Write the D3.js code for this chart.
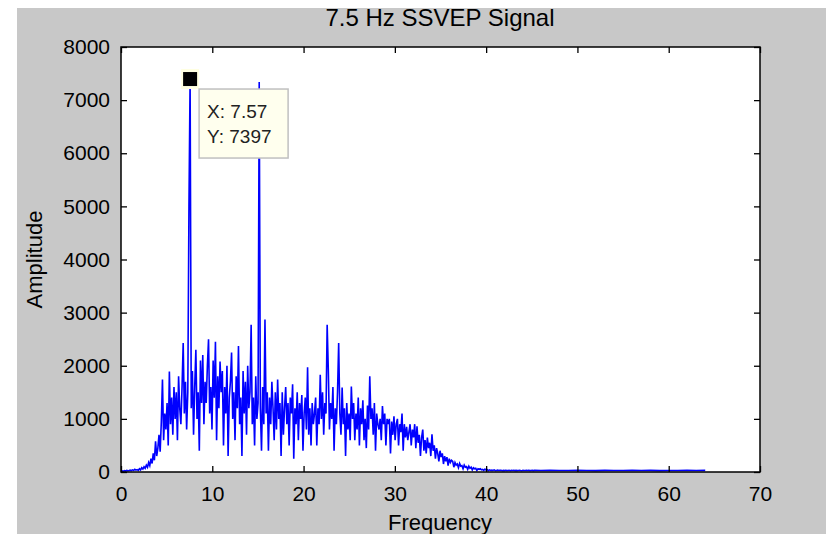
<!DOCTYPE html>
<html>
<head>
<meta charset="utf-8">
<script src="https://cdn.jsdelivr.net/npm/d3@7"></script>
<style>
  html, body { margin: 0; padding: 0; background: #ffffff; }
  svg { display: block; font-family: "Liberation Sans", Arial, sans-serif; }
</style>
</head>
<body>
<svg id="chart" width="826" height="534"></svg>
<script>
// ---- data ----
const chartTitle = "7.5 Hz SSVEP Signal";
const xLabel = "Frequency";
const yLabel = "Amplitude";
const xTicks = [0, 10, 20, 30, 40, 50, 60, 70];
const yTicks = [0, 1000, 2000, 3000, 4000, 5000, 6000, 7000, 8000];
const freqStep = 0.126167; // Hz between spectrum samples (0 .. ~45 Hz)
const amplitude = [
  10, 20, 15, 25, 18, 30, 22, 28,
  35, 25, 40, 30, 50, 35, 45, 30,
  60, 40, 80, 55, 100, 70, 130, 90,
  180, 120, 250, 160, 350, 220, 580, 300,
  450, 700, 380, 940, 1740, 600, 1100, 800,
  1300, 500, 1890, 900, 1400, 700, 1600, 1000,
  1500, 600, 1800, 1200, 900, 1600, 2430, 1100,
  1700, 800, 1500, 5000, 7397, 1200, 1900, 700,
  1600, 2300, 1000, 1500, 400, 2100, 1300, 2200,
  900, 1700, 1300, 2000, 2500, 1100, 1600, 800,
  2100, 1400, 2450, 600, 1800, 1200, 2080, 1500,
  1900, 500, 1600, 1100, 2000, 300, 1400, 1700,
  2250, 1000, 1500, 600, 1800, 1200, 2370, 900,
  1400, 300, 1900, 1100, 1700, 700, 2000, 1200,
  1500, 2770, 900, 1400, 500, 1800, 1000, 1300,
  7340, 1200, 400, 1600, 900, 2870, 1100, 1500,
  400, 1400, 900, 1700, 1200, 600, 1500, 800,
  1740, 1000, 1300, 300, 1500, 700, 1200, 1600,
  900, 1300, 500, 1400, 1100, 1650, 250, 1200,
  900, 1500, 600, 1300, 1000, 1450, 400, 1100,
  1400, 800, 1970, 700, 1200, 500, 1300, 900,
  1100, 1400, 500, 1200, 900, 1830, 1000, 1500,
  700, 1300, 1100, 2770, 1930, 800, 1300, 1000,
  1600, 400, 1200, 900, 1500, 2430, 1100, 700,
  1590, 900, 1200, 300, 1300, 800, 1100, 600,
  1610, 1000, 1300, 600, 1100, 800, 1400, 500,
  1200, 900, 1350, 600, 1000, 450, 1250, 800,
  1800, 1000, 1200, 700, 1300, 400, 1100, 900,
  800, 1000, 600, 1240, 900, 1100, 500, 1000,
  900, 1000, 350, 950, 700, 1050, 600, 900,
  1000, 500, 900, 750, 1100, 400, 900, 650,
  850, 600, 750, 900, 500, 800, 650, 900,
  450, 860, 550, 700, 300, 650, 800, 400,
  600, 350, 650, 450, 550, 300, 710, 400,
  500, 250, 450, 350, 200, 400, 280, 350,
  150, 300, 200, 280, 120, 250, 180, 220,
  200, 90, 180, 130, 150, 80, 160, 110,
  120, 60, 130, 90, 100, 50, 110, 70,
  90, 40, 80, 60, 70, 30, 60, 50,
  60, 40, 50, 30, 55, 35, 45, 25,
  40, 30, 35, 30, 40, 25, 30, 35,
  28, 30, 32, 25, 30, 27, 33, 26,
  29, 31, 25, 30, 28, 32, 27, 30,
  26, 29, 33, 28, 25, 31, 29, 27,
  30, 28, 32, 26, 29, 30, 27, 31
];
// flat tail of the spectrum, one sample per Hz from 46 to 64 Hz
const tailStart = 46;
const tailStep = 1;
const tailAmplitude = [28, 30, 27, 29, 31, 28, 26, 30, 29, 27, 31, 28, 30, 26, 29, 27, 31, 28, 30];
const tipX = 7.57;
const tipY = 7397;

// ---- layout ----
const W = 826, H = 534;
const M = { left: 121, right: 760, top: 47, bottom: 472 };

const svg = d3.select("#chart");

// figure background
svg.append("rect").attr("x", 17).attr("y", 8).attr("width", W - 17).attr("height", H - 8).attr("fill", "#c8c8c8");

const x = d3.scaleLinear().domain([0, 70]).range([M.left, M.right]);
const y = d3.scaleLinear().domain([0, 8000]).range([M.bottom, M.top]);

// axes area
svg.append("rect").attr("x", M.left).attr("y", M.top)
  .attr("width", M.right - M.left).attr("height", M.bottom - M.top).attr("fill", "#ffffff");

const data = amplitude.map((a, i) => ({ f: i * freqStep, a: a }))
  .concat(tailAmplitude.map((a, i) => ({ f: tailStart + i * tailStep, a: a })));

svg.append("defs").append("clipPath").attr("id", "clip")
  .append("rect").attr("x", M.left).attr("y", M.top)
  .attr("width", M.right - M.left).attr("height", M.bottom - M.top);

svg.append("path").datum(data)
  .attr("clip-path", "url(#clip)")
  .attr("fill", "none").attr("stroke", "#0000ff").attr("stroke-width", 1.6)
  .attr("stroke-linejoin", "miter")
  .attr("d", d3.line().x(d => x(d.f)).y(d => y(d.a)));

// axes (MATLAB style, ticks inward on all sides)
const tickLen = 6;
const fontSize = 21;
const fmt = d3.format("d");
const gx = svg.append("g").attr("transform", `translate(0,${M.bottom})`)
  .call(d3.axisBottom(x).tickValues(xTicks).tickSizeInner(-tickLen).tickSizeOuter(0).tickPadding(14).tickFormat(fmt));
const gxTop = svg.append("g").attr("transform", `translate(0,${M.top})`)
  .call(d3.axisTop(x).tickValues(xTicks).tickSizeInner(-tickLen).tickSizeOuter(0).tickFormat(""));
const gy = svg.append("g").attr("transform", `translate(${M.left},0)`)
  .call(d3.axisLeft(y).tickValues(yTicks).tickSizeInner(-tickLen).tickSizeOuter(0).tickPadding(11).tickFormat(fmt));
const gyR = svg.append("g").attr("transform", `translate(${M.right},0)`)
  .call(d3.axisRight(y).tickValues(yTicks).tickSizeInner(-tickLen).tickSizeOuter(0).tickFormat(""));

[gx, gxTop, gy, gyR].forEach(g => {
  g.select(".domain").remove();
  g.selectAll(".tick line").attr("stroke", "#000").attr("stroke-width", 1.3);
  g.selectAll(".tick text").attr("fill", "#000").attr("font-size", fontSize)
    .attr("font-family", "'Liberation Sans', Arial, sans-serif");
});

// axes box
svg.append("rect").attr("x", M.left).attr("y", M.top)
  .attr("width", M.right - M.left).attr("height", M.bottom - M.top)
  .attr("fill", "none").attr("stroke", "#000").attr("stroke-width", 1.5);

// title & labels
svg.append("text").attr("x", 440).attr("y", 26)
  .attr("text-anchor", "middle").attr("font-size", 24).attr("fill", "#000").text(chartTitle);
svg.append("text").attr("x", 440).attr("y", 530)
  .attr("text-anchor", "middle").attr("font-size", 22).attr("fill", "#000").text(xLabel);
svg.append("text").attr("transform", `translate(42,${(M.top + M.bottom) / 2}) rotate(-90)`)
  .attr("text-anchor", "middle").attr("font-size", 22).attr("fill", "#000").text(yLabel);

// data tip
const px = x(tipX), py = y(tipY);
svg.append("rect").attr("x", px - 9).attr("y", py - 10).attr("width", 18).attr("height", 20).attr("fill", "#ffffe1");
svg.append("rect").attr("x", px - 7).attr("y", py - 7).attr("width", 14).attr("height", 14).attr("fill", "#000");
const bx = px + 9, by = py + 10;
svg.append("rect").attr("x", bx).attr("y", by).attr("width", 89).attr("height", 69)
  .attr("fill", "#ffffee").attr("stroke", "#c0c0c0").attr("stroke-width", 1.5);
svg.append("text").attr("x", bx + 8).attr("y", by + 29).attr("font-size", 19).attr("fill", "#222")
  .text("X: " + tipX);
svg.append("text").attr("x", bx + 8).attr("y", by + 54).attr("font-size", 19).attr("fill", "#222")
  .text("Y: " + tipY);
</script>
</body>
</html>
